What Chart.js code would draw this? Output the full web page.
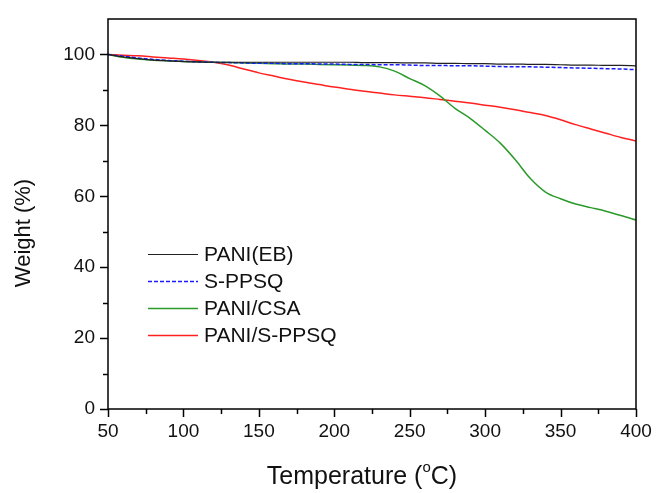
<!DOCTYPE html>
<html>
<head>
<meta charset="utf-8">
<script src="https://cdn.jsdelivr.net/npm/chart.js@4"></script>
<style>
  html, body { margin: 0; padding: 0; background: #fff; }
  #wrap { width: 658px; height: 493px; }
</style>
</head>
<body>
<div id="wrap"><canvas id="tga"></canvas></div>
<script>
// ── Data ────────────────────────────────────────────────────
const temps = [50, 60, 70, 80, 90, 100, 110, 120, 130, 140, 150, 160, 170, 180, 190, 200, 210, 220,
  230, 240, 250, 260, 270, 280, 290, 300, 310, 320, 330, 340, 350, 360, 370, 380, 390, 400];

const paniEB = [100, 99.3, 98.8, 98.4, 98.2, 98.0, 97.9, 97.8, 97.8, 97.8, 97.8, 97.8, 97.8, 97.8, 97.8, 97.8, 97.8, 97.7,
  97.7, 97.7, 97.6, 97.6, 97.5, 97.5, 97.4, 97.4, 97.3, 97.3, 97.2, 97.2, 97.1, 97.0, 97.0, 96.9, 96.9, 96.8];
const sPPSQ = [100, 99.5, 99.0, 98.6, 98.3, 98.1, 97.9, 97.8, 97.7, 97.6, 97.5, 97.5, 97.4, 97.4, 97.3, 97.3, 97.2, 97.2,
  97.1, 97.1, 97.0, 96.9, 96.9, 96.8, 96.8, 96.7, 96.6, 96.5, 96.5, 96.4, 96.3, 96.2, 96.1, 96.0, 95.9, 95.7];
const paniCSA = [100, 99.2, 98.7, 98.4, 98.2, 98.0, 97.9, 97.8, 97.7, 97.6, 97.5, 97.4, 97.3, 97.3, 97.2, 97.1, 97.0, 96.9,
  96.5, 95.3, 93.2, 91.2, 88.3, 84.8, 82.0, 78.6, 75.0, 70.3, 65.0, 61.2, 59.3, 57.8, 56.8, 55.8, 54.6, 53.3];
const paniSPPSQ = [100, 99.8, 99.6, 99.3, 99.0, 98.7, 98.3, 97.8, 97.0, 95.9, 94.8, 93.9, 93.0, 92.2, 91.5, 90.8, 90.2, 89.6,
  89.1, 88.6, 88.2, 87.8, 87.3, 86.8, 86.3, 85.7, 85.1, 84.4, 83.6, 82.8, 81.6, 80.2, 79.0, 77.8, 76.6, 75.6];

const xTicks = [50, 100, 150, 200, 250, 300, 350, 400];
const yTicks = [0, 20, 40, 60, 80, 100];

const FONT = 'Liberation Sans, Arial, sans-serif';

function pts(vals) {
  return temps.map((t, i) => ({ x: t, y: vals[i] }));
}

// ── Plugin: outward major/minor ticks, titles, inset legend ─
const decorPlugin = {
  id: 'decor',
  afterDraw(chart) {
    const { ctx, chartArea: a, scales } = chart;
    const xs = scales.x, ys = scales.y;
    ctx.save();
    ctx.strokeStyle = '#000';
    ctx.lineWidth = 1.5;

    // frame
    ctx.strokeRect(a.left, a.top, a.right - a.left, a.bottom - a.top);

    // x ticks (major every 50, minor every 25)
    for (let v = 50; v <= 400; v += 25) {
      const px = Math.round(xs.getPixelForValue(v)) + 0.5;
      const len = v % 50 === 0 ? 8 : 5;
      ctx.beginPath();
      ctx.moveTo(px, a.bottom);
      ctx.lineTo(px, a.bottom + len);
      ctx.stroke();
    }
    // y ticks (major every 20, minor every 10)
    for (let v = 0; v <= 100; v += 10) {
      const py = Math.round(ys.getPixelForValue(v)) + 0.5;
      const len = v % 20 === 0 ? 8 : 5;
      ctx.beginPath();
      ctx.moveTo(a.left, py);
      ctx.lineTo(a.left - len, py);
      ctx.stroke();
    }

    // axis titles
    ctx.fillStyle = '#111';
    ctx.textBaseline = 'middle';
    const tx = 362, ty = 477;
    const main = 'Temperature (', sup = 'o', tail = 'C)';
    ctx.font = '25px ' + FONT;
    const wMain = ctx.measureText(main).width;
    const wTail = ctx.measureText(tail).width;
    ctx.font = '15px ' + FONT;
    const wSup = ctx.measureText(sup).width;
    let sx = tx - (wMain + wSup + wTail) / 2;
    ctx.textAlign = 'left';
    ctx.font = '25px ' + FONT;
    ctx.fillText(main, sx, ty);
    sx += wMain;
    ctx.font = '15px ' + FONT;
    ctx.fillText(sup, sx, ty - 9);
    sx += wSup;
    ctx.font = '25px ' + FONT;
    ctx.fillText(tail, sx, ty);

    ctx.save();
    ctx.font = '22px ' + FONT;
    ctx.translate(24, 233);
    ctx.rotate(-Math.PI / 2);
    ctx.textAlign = 'center';
    ctx.fillText('Weight (%)', 0, 0);
    ctx.restore();

    // legend inside the plot
    ctx.font = '21px ' + FONT;
    ctx.textAlign = 'left';
    ctx.textBaseline = 'middle';
    chart.data.datasets.forEach((ds, i) => {
      const y = 254 + i * 27;
      ctx.strokeStyle = ds.borderColor;
      ctx.lineWidth = ds.borderWidth;
      ctx.setLineDash(ds.borderDash || []);
      ctx.beginPath();
      ctx.moveTo(148, y + 0.5);
      ctx.lineTo(198, y + 0.5);
      ctx.stroke();
      ctx.setLineDash([]);
      ctx.fillStyle = '#111';
      ctx.fillText(ds.label, 204, y + 1);
    });
    ctx.restore();
  }
};

new Chart(document.getElementById('tga'), {
  type: 'line',
  data: {
    datasets: [
      { label: 'PANI(EB)', data: pts(paniEB), borderColor: '#222', borderWidth: 1.2 },
      { label: 'S-PPSQ', data: pts(sPPSQ), borderColor: '#1a1aff', borderWidth: 1.5, borderDash: [4, 2] },
      { label: 'PANI/CSA', data: pts(paniCSA), borderColor: '#2a9a2a', borderWidth: 1.5 },
      { label: 'PANI/S-PPSQ', data: pts(paniSPPSQ), borderColor: '#ff2020', borderWidth: 1.5 }
    ]
  },
  options: {
    responsive: true,
    maintainAspectRatio: false,
    animation: false,
    devicePixelRatio: 1,
    layout: { padding: { left: 0, top: 19, right: 22, bottom: 0 } },
    elements: {
      point: { radius: 0 },
      line: { cubicInterpolationMode: 'monotone', fill: false }
    },
    plugins: {
      legend: { display: false },
      tooltip: { enabled: false }
    },
    scales: {
      x: {
        type: 'linear',
        min: 50, max: 400,
        afterFit(s) { s.height = 84; s.paddingLeft = 0; s.paddingRight = 0; },
        afterBuildTicks(s) { s.ticks = xTicks.map(v => ({ value: v })); },
        grid: { display: false, drawTicks: false },
        border: { display: false },
        ticks: { color: '#111', padding: 11, font: { family: FONT, size: 19 } }
      },
      y: {
        min: 0, max: 110,
        afterFit(s) { s.width = 108; s.paddingTop = 0; s.paddingBottom = 0; },
        afterBuildTicks(s) { s.ticks = yTicks.map(v => ({ value: v })); },
        grid: { display: false, drawTicks: false },
        border: { display: false },
        ticks: { color: '#111', padding: 13, font: { family: FONT, size: 19 } }
      }
    }
  },
  plugins: [decorPlugin]
});
</script>
</body>
</html>
